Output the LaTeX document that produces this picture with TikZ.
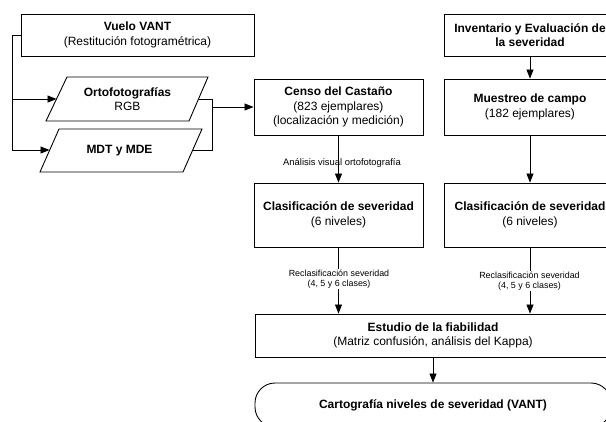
\documentclass[tikz,border=0pt]{standalone}
\usepackage{fontspec}
\setmainfont{Liberation Sans}
\usetikzlibrary{arrows.meta}
\begin{document}
\begin{tikzpicture}[x=1pt,y=-1pt,
  box/.style={draw=black,line width=0.9pt,rectangle,align=center,inner sep=0pt,
    font=\fontsize{12}{14.5}\selectfont},
  conn/.style={line width=0.8pt,-{Triangle[length=9pt,width=7pt]}},
  plain/.style={line width=0.8pt},
  lbl/.style={font=\fontsize{8.9}{10.5}\selectfont,align=center,inner sep=1pt},
  txt/.style={font=\fontsize{12}{14.5}\selectfont,align=center,inner sep=0pt}]
\useasboundingbox (0,0) rectangle (606,421);
\clip (0,0) rectangle (606,421);
% boxes
\node[box,minimum width=233pt,minimum height=42pt] (vuelo) at (137.5,35)
  {\textbf{Vuelo VANT}\\(Restitución fotogramétrica)};
\node[box,minimum width=169pt,minimum height=56pt] (censo) at (338.5,107)
  {\textbf{Censo del Castaño}\\(823 ejemplares)\\(localización y medición)};
\node[box,minimum width=172pt,minimum height=42pt] (inv) at (530,35)
  {\textbf{Inventario y Evaluación de}\\\textbf{la severidad}};
\node[box,minimum width=172pt,minimum height=56pt] (muest) at (530,107)
  {\textbf{Muestreo de campo}\\(182 ejemplares)};
\node[box,minimum width=169pt,minimum height=64pt] (clasL) at (338.5,215)
  {\textbf{Clasificación de severidad}\\(6 niveles)};
\node[box,minimum width=172pt,minimum height=64pt] (clasR) at (530,215)
  {\textbf{Clasificación de severidad}\\(6 niveles)};
\node[box,minimum width=356pt,minimum height=43pt] (est) at (433,335.5)
  {\textbf{Estudio de la fiabilidad}\\(Matriz confusión, análisis del Kappa)};
\node[box,rounded corners=20pt,minimum width=356pt,minimum height=44pt] (cart) at (433,405)
  {\textbf{Cartografía niveles de severidad (VANT)}};
% parallelograms
\coordinate (oTL) at (67,77); \coordinate (oTR) at (208,77);
\coordinate (oBR) at (189,121); \coordinate (oBL) at (46,121);
\draw[line width=0.9pt] (oTL) -- (oTR) -- (oBR) -- (oBL) -- cycle;
\node[txt] (orto) at (127.5,99) {\textbf{Ortofotografías}\\RGB};
\coordinate (oW) at (56.5,99); \coordinate (oE) at (198.5,99);
\coordinate (mTL) at (59,129); \coordinate (mTR) at (202,129);
\coordinate (mBR) at (183,172); \coordinate (mBL) at (40,172);
\draw[line width=0.9pt] (mTL) -- (mTR) -- (mBR) -- (mBL) -- cycle;
\node[txt] (mdt) at (119.5,151) {\textbf{MDT y MDE}};
\coordinate (mW) at (49.5,150); \coordinate (mE) at (192.5,150);
% left bracket
\coordinate (lb) at (12,35);
\draw[plain] (vuelo.west) -- (lb) -- (lb |- mW);
\draw[conn] (lb |- oW) -- (oW);
\draw[conn] (lb |- mW) -- (mW);
% right bracket
\coordinate (rb) at (212,99);
\draw[plain] (oE) -- (rb) -- (rb |- mE) -- (mE);
\draw[conn] (rb |- censo.west) -- (censo.west);
% vertical flow
\draw[conn] (inv.south) -- (muest.north);
\draw[conn] (muest.south) -- (clasR.north);
\draw[conn] (censo.south) -- (clasL.north);
\node[lbl,font=\fontsize{9.4}{11}\selectfont] (lab1) at (342,163) {Análisis visual ortofotografía};
\draw[conn] (clasL.south) -- (clasL.south |- est.north);
\draw[conn] (clasR.south) -- (clasR.south |- est.north);
\node[lbl,fill=white] (lab2) at (339,279) {Reclasificación severidad\\(4, 5 y 6 clases)};
\node[lbl,fill=white] (lab3) at (529.5,281) {Reclasificación severidad\\(4, 5 y 6 clases)};
\draw[conn] (est.south) -- (cart.north);
\end{tikzpicture}
\end{document}
